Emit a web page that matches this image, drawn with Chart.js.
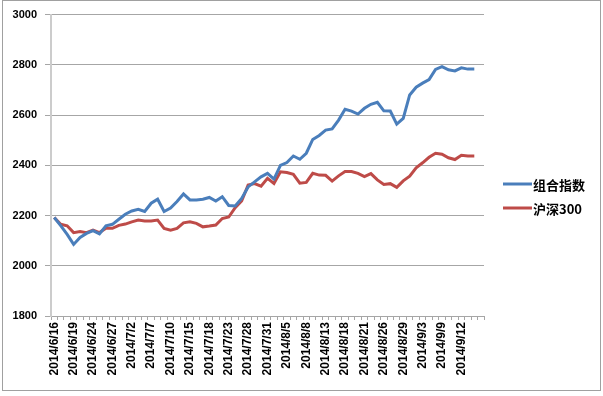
<!DOCTYPE html>
<html lang="zh">
<head>
    <meta charset="utf-8" />
    <title>组合指数 vs 沪深300</title>
    <script src="https://cdn.jsdelivr.net/npm/chart.js"></script>
    <style>
      html, body { margin: 0; padding: 0; background: #fff; }
      #wrap { position: relative; width: 603px; height: 396px; }
      #frame {
        position: absolute; left: 2px; top: 0; width: 597px; height: 389px;
        border: 1px solid #a0a0a0; box-sizing: content-box;
      }
      #chart { position: absolute; left: 0; top: 0; }
    </style>
</head>
<body>
    <div id="wrap">
        <div id="frame"></div>
        <canvas id="chart" width="603" height="396"></canvas>
    </div>

    <script>
        // --- données ---
        const dates = [
            "2014/6/16","2014/6/17","2014/6/18","2014/6/19","2014/6/20","2014/6/23","2014/6/24","2014/6/25","2014/6/26","2014/6/27","2014/6/30",
            "2014/7/1","2014/7/2","2014/7/3","2014/7/4","2014/7/7","2014/7/8","2014/7/9","2014/7/10","2014/7/11","2014/7/14","2014/7/15",
            "2014/7/16","2014/7/17","2014/7/18","2014/7/21","2014/7/22","2014/7/23","2014/7/24","2014/7/25","2014/7/28","2014/7/29","2014/7/30","2014/7/31",
            "2014/8/1","2014/8/4","2014/8/5","2014/8/6","2014/8/7","2014/8/8","2014/8/11","2014/8/12","2014/8/13","2014/8/14","2014/8/15",
            "2014/8/18","2014/8/19","2014/8/20","2014/8/21","2014/8/22","2014/8/25","2014/8/26","2014/8/27","2014/8/28","2014/8/29",
            "2014/9/1","2014/9/2","2014/9/3","2014/9/4","2014/9/5","2014/9/9","2014/9/10","2014/9/11","2014/9/12","2014/9/15","2014/9/16",
            ""  // dernière ligne vide
        ];

        const portfolio = [
            2192, 2160, 2125, 2085, 2113, 2129, 2140, 2127, 2159, 2165, 2185,
            2205, 2218, 2225, 2216, 2249, 2265, 2216, 2230, 2256, 2286, 2262,
            2262, 2265, 2272, 2258, 2275, 2240, 2238, 2268, 2314, 2334, 2354, 2368,
            2345, 2400, 2411, 2437, 2424, 2448, 2503, 2519, 2540, 2545, 2580,
            2623, 2616, 2604, 2627, 2643, 2651, 2617, 2616, 2564, 2587,
            2680, 2711, 2727, 2741, 2782, 2793, 2780, 2776, 2788, 2783, 2783
        ];

        const hs300 = [
            2192, 2165, 2159, 2132, 2136, 2132, 2142, 2132, 2149, 2149, 2161,
            2166, 2175, 2182, 2178, 2178, 2182, 2149, 2142, 2149, 2171, 2175,
            2169, 2155, 2158, 2162, 2188, 2194, 2231, 2258, 2321, 2327, 2317, 2348,
            2328, 2374, 2371, 2364, 2329, 2332, 2368, 2361, 2360, 2337, 2358,
            2375, 2375, 2368, 2355, 2367, 2342, 2324, 2327, 2312, 2338,
            2357, 2390, 2410, 2432, 2448, 2444, 2430, 2423, 2440, 2437, 2437
        ];

        const seriesNames = ["组合指数", "沪深300"];
        const seriesColors = ["#4a7ebb", "#be4b48"];

        const yMin = 1800, yMax = 3000, yStep = 200;
        const labelEvery = 3;

        // --- légende dessinée à droite ---
        const sideLegend = {
            id: "sideLegend",
            afterDraw(chart) {
                const ctx = chart.ctx;
                const rows = [184, 208];
                ctx.save();
                chart.data.datasets.forEach((ds, i) => {
                    const y = rows[i];
                    ctx.strokeStyle = ds.borderColor;
                    ctx.lineWidth = 3;
                    ctx.beginPath();
                    ctx.moveTo(503, y);
                    ctx.lineTo(532, y);
                    ctx.stroke();
                    ctx.fillStyle = "#000";
                    ctx.font = "bold 13px 'Noto Sans CJK SC', 'Liberation Sans', sans-serif";
                    ctx.textBaseline = "middle";
                    ctx.textAlign = "left";
                    ctx.fillText(ds.label, 533, y + 1);
                });
                ctx.restore();
            }
        };

        const ctx = document.getElementById("chart").getContext("2d");

        let chart = new Chart(ctx, {
            type: "line",
            data: {
                labels: dates,
                datasets: [
                    {
                        label: seriesNames[0],
                        data: portfolio,
                        borderColor: seriesColors[0],
                        borderWidth: 3,
                        pointRadius: 0,
                        tension: 0,
                        fill: false
                    },
                    {
                        label: seriesNames[1],
                        data: hs300,
                        borderColor: seriesColors[1],
                        borderWidth: 3,
                        pointRadius: 0,
                        tension: 0,
                        fill: false
                    }
                ]
            },
            options: {
                responsive: false,
                animation: false,
                layout: {
                    padding: { left: 12, right: 119, top: 14, bottom: 0 }
                },
                plugins: {
                    legend: { display: false },
                    tooltip: { enabled: false }
                },
                scales: {
                    x: {
                        offset: true,
                        grid: {
                            display: true,
                            offset: true,
                            drawOnChartArea: false,
                            drawTicks: true,
                            tickLength: 4,
                            color: "#a6a6a6"
                        },
                        border: { display: true, color: "#a6a6a6", width: 1 },
                        ticks: {
                            autoSkip: false,
                            maxRotation: 90,
                            minRotation: 90,
                            padding: 2,
                            color: "#000",
                            font: { family: "'Liberation Sans', Arial, sans-serif", size: 12, weight: "bold" },
                            callback: function (value, index) {
                                return index % labelEvery === 0 ? dates[index] : "";
                            }
                        },
                        afterFit: function (scale) { scale.height = 80; }
                    },
                    y: {
                        min: yMin,
                        max: yMax,
                        grid: {
                            color: "#a6a6a6",
                            lineWidth: 1,
                            tickLength: 6
                        },
                        border: { display: true, color: "#cccccc", width: 2 },
                        ticks: {
                            stepSize: yStep,
                            padding: 8,
                            color: "#000",
                            font: { family: "'Liberation Sans', Arial, sans-serif", size: 11, weight: "bold" },
                            callback: function (value) { return String(value); }
                        },
                        afterFit: function (scale) { scale.width = 39; }
                    }
                }
            },
            plugins: [sideLegend]
        });
    </script>
</body>
</html>
